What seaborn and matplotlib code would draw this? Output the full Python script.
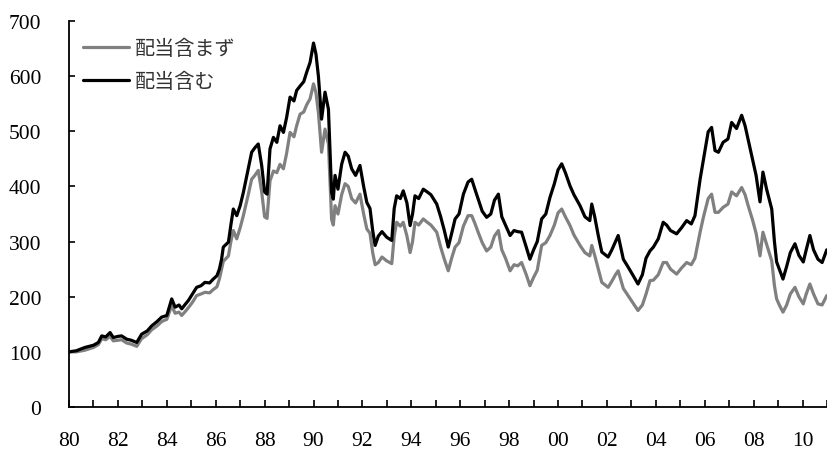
import matplotlib
matplotlib.use("Agg")
import matplotlib.pyplot as plt
import seaborn as sns
import pandas as pd

# decimal years
years = [1980.0, 1980.3, 1980.65, 1981.0, 1981.2, 1981.34, 1981.5, 1981.68, 1981.81, 1982.0,
         1982.15, 1982.36, 1982.55, 1982.77, 1982.97, 1983.2, 1983.38, 1983.6, 1983.79, 1984.0,
         1984.2, 1984.34, 1984.5, 1984.61, 1984.75, 1984.88, 1985.05, 1985.22, 1985.4, 1985.56,
         1985.75, 1985.9, 1986.05, 1986.15, 1986.24, 1986.31, 1986.52, 1986.62, 1986.72, 1986.86,
         1987.0, 1987.13, 1987.33, 1987.47, 1987.6, 1987.74, 1987.88, 1988.0, 1988.1, 1988.22,
         1988.36, 1988.5, 1988.63, 1988.77, 1988.9, 1989.04, 1989.2, 1989.31, 1989.45, 1989.6,
         1989.72, 1989.86, 1990.0, 1990.1, 1990.2, 1990.33, 1990.47, 1990.61, 1990.74, 1990.81,
         1990.88, 1991.0, 1991.15, 1991.29, 1991.42, 1991.56, 1991.72, 1991.9, 1992.05, 1992.18,
         1992.31, 1992.42, 1992.52, 1992.65, 1992.8, 1992.99, 1993.2, 1993.3, 1993.4, 1993.55,
         1993.67, 1993.82, 1993.95, 1994.05, 1994.15, 1994.3, 1994.49, 1994.65, 1994.8, 1995.04,
         1995.2, 1995.35, 1995.51, 1995.65, 1995.79, 1995.95, 1996.13, 1996.32, 1996.47, 1996.6,
         1996.75, 1996.9, 1997.08, 1997.25, 1997.4, 1997.56, 1997.7, 1997.85, 1998.04, 1998.2,
         1998.35, 1998.51, 1998.7, 1998.85, 1999.0, 1999.15, 1999.33, 1999.5, 1999.67, 1999.85,
         2000.0, 2000.15, 2000.3, 2000.49, 2000.65, 2000.9, 2001.1, 2001.3, 2001.38, 2001.5,
         2001.65, 2001.79, 2002.05, 2002.2, 2002.35, 2002.46, 2002.67, 2002.85, 2003.05, 2003.27,
         2003.45, 2003.6, 2003.76, 2003.9, 2004.1, 2004.3, 2004.44, 2004.6, 2004.85, 2005.05,
         2005.26, 2005.45, 2005.6, 2005.81, 2005.95, 2006.14, 2006.28, 2006.42, 2006.56, 2006.75,
         2006.95, 2007.1, 2007.3, 2007.51, 2007.65, 2007.77, 2007.95, 2008.1, 2008.26, 2008.38,
         2008.53, 2008.74, 2008.85, 2008.94, 2009.05, 2009.2, 2009.35, 2009.5, 2009.69, 2009.85,
         2010.03, 2010.15, 2010.3, 2010.45, 2010.63, 2010.8, 2010.99]

# 配当含む (with dividends)
with_div = [100, 102, 108, 112, 117, 129, 127, 135, 126, 128,
            129, 123, 121, 117, 132, 138, 147, 155, 163, 166,
            196, 181, 185, 178, 186, 193, 205, 217, 220, 226,
            225, 232, 238, 250, 268, 290, 299, 330, 359, 347,
            365, 389, 432, 462, 470, 477, 438, 390, 386, 468,
            489, 480, 510, 498, 525, 562, 555, 574, 582, 590,
            607, 625, 660, 640, 600, 522, 571, 540, 389, 377,
            420, 395, 440, 462, 455, 432, 420, 438, 400, 371,
            360, 320, 293, 310, 318, 308, 302, 360, 383, 378,
            392, 370, 329, 350, 383, 378, 395, 390, 385, 368,
            345, 320, 290, 315, 341, 350, 386, 408, 413, 395,
            375, 355, 344, 350, 375, 386, 345, 330, 311, 320,
            318, 317, 290, 268, 285, 300, 341, 350, 380, 405,
            430, 441, 425, 401, 385, 365, 345, 338, 368, 345,
            310, 281, 272, 285, 300, 311, 268, 255, 240, 223,
            240, 270, 283, 290, 305, 335, 330, 320, 314, 325,
            338, 332, 347, 413, 450, 499, 507, 465, 462, 480,
            486, 516, 505, 529, 510, 486, 450, 420, 372, 426,
            395, 359, 300, 263, 250, 232, 255, 280, 296, 275,
            263, 285, 311, 285, 268, 262, 285]

# 配当含まず (without dividends)
without_div = [100, 100, 103, 108, 113, 124, 122, 128, 120, 121,
               122, 116, 114, 110, 124, 131, 140, 147, 155, 159,
               184, 170, 172, 166, 173, 180, 190, 202, 205, 208,
               207, 213, 218, 232, 250, 264, 274, 300, 320, 305,
               325, 347, 385, 413, 420, 429, 390, 345, 342, 410,
               428, 425, 440, 432, 460, 498, 490, 510, 531, 535,
               548, 559, 586, 570, 534, 462, 504, 477, 340, 330,
               365, 350, 385, 405, 400, 378, 370, 386, 350, 323,
               315, 280, 258, 262, 272, 265, 260, 310, 335, 328,
               335, 310, 280, 300, 335, 330, 341, 335, 330, 317,
               290, 268, 247, 270, 290, 298, 328, 347, 347, 333,
               315, 298, 283, 290, 310, 320, 285, 270, 247, 258,
               256, 262, 240, 220, 235, 248, 293, 298, 311, 330,
               352, 359, 345, 329, 312, 293, 280, 274, 293, 275,
               250, 226, 217, 228, 240, 247, 215, 203, 190, 175,
               185, 205, 229, 230, 240, 262, 262, 250, 241, 252,
               262, 258, 270, 317, 345, 378, 386, 353, 353, 362,
               368, 390, 383, 398, 385, 366, 340, 315, 274, 317,
               295, 265, 220, 196, 185, 172, 185, 205, 217, 200,
               187, 205, 223, 205, 187, 185, 202]

year_ticks = list(range(1980, 2012))
tick_labels = [f"{y % 100:02d}" if y % 2 == 0 else "" for y in year_ticks]

df = pd.DataFrame({"year": years, "with_div": with_div, "without_div": without_div})

sns.set_style("ticks")
plt.rcParams["font.family"] = ["Liberation Serif", "Noto Sans CJK JP", "DejaVu Sans"]

fig = plt.figure(figsize=(8.27, 4.52), dpi=100)
ax = fig.add_axes([69 / 827, 44 / 452, 758 / 827, 386 / 452])

sns.lineplot(data=df, x="year", y="without_div", color="#808080", linewidth=2.3,
             label="配当含まず", ax=ax)
sns.lineplot(data=df, x="year", y="with_div", color="black", linewidth=2.3,
             label="配当含む", ax=ax)

ax.set_xlim(1980, 2011)
ax.set_ylim(0, 700)
ax.set_yticks(range(0, 701, 100))
ax.set_xticks(year_ticks)
ax.set_xticklabels(tick_labels)
ax.set_xlabel("")
ax.set_ylabel("")

ax.tick_params(axis="y", direction="in", length=4, width=1.2, pad=20, labelsize=15.5, colors="black")
ax.tick_params(axis="x", direction="in", length=5, width=1.2, pad=17, labelsize=15.5, colors="black")

sns.despine(ax=ax)
for side in ["left", "bottom"]:
    ax.spines[side].set_linewidth(1.3)
    ax.spines[side].set_color("black")

leg = ax.legend(loc="upper left", bbox_to_anchor=(0.0185, 0.955), frameon=False,
                handlelength=2.3, handletextpad=0.25, labelspacing=0.6,
                borderpad=0, borderaxespad=0, prop={"family": "Noto Sans CJK JP", "size": 14.5})
for t in leg.get_texts():
    t.set_color("#333333")

fig.savefig("out.png", dpi=100)
